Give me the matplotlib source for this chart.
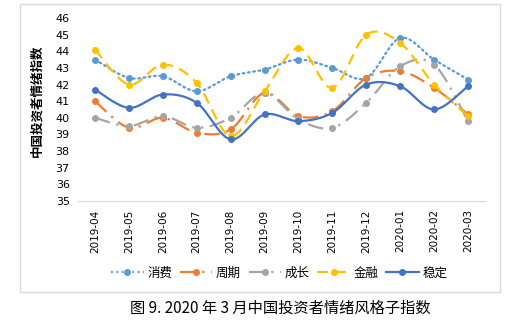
import matplotlib
matplotlib.use("Agg")
import matplotlib.pyplot as plt
import numpy as np
from matplotlib.lines import Line2D
from matplotlib.patches import Rectangle

# ---------------------------------------------------------
# data
# ---------------------------------------------------------
months = ["2019-04", "2019-05", "2019-06", "2019-07", "2019-08", "2019-09",
          "2019-10", "2019-11", "2019-12", "2020-01", "2020-02", "2020-03"]

consume = [43.5, 42.4, 42.5, 41.6, 42.5, 42.9, 43.5, 43.0, 42.4, 44.8, 43.5, 42.3]
cycle = [41.0, 39.4, 40.0, 39.1, 39.3, 41.5, 40.1, 40.4, 42.4, 42.8, 41.8, 40.2]
growth = [40.0, 39.5, 40.1, 39.4, 40.0, 41.5, 39.9, 39.4, 40.9, 43.1, 43.2, 39.8]
finance = [44.1, 42.0, 43.2, 42.1, 38.9, 41.6, 44.2, 41.8, 45.0, 44.5, 42.0, 40.1]
stable = [41.7, 40.6, 41.4, 40.9, 38.7, 40.2, 39.8, 40.3, 42.0, 41.9, 40.5, 41.9]

series_names = ["消费", "周期", "成长", "金融", "稳定"]

CJK = ["Noto Sans CJK SC", "DejaVu Sans"]


def smooth(y, steps=30):
    """Excel-style smoothed line: cubic Bezier through the points."""
    y = np.asarray(y, dtype=float)
    x = np.arange(len(y), dtype=float)
    px = np.concatenate([[x[0]], x, [x[-1]]])
    py = np.concatenate([[y[0]], y, [y[-1]]])
    xs, ys = [], []
    t = np.linspace(0, 1, steps)
    for i in range(len(y) - 1):
        p0 = np.array([px[i + 1], py[i + 1]])
        p3 = np.array([px[i + 2], py[i + 2]])
        c1 = p0 + (np.array([px[i + 2], py[i + 2]]) - np.array([px[i], py[i]])) / 6
        c2 = p3 - (np.array([px[i + 3], py[i + 3]]) - np.array([px[i + 1], py[i + 1]])) / 6
        b = ((1 - t) ** 3)[:, None] * p0 + (3 * (1 - t) ** 2 * t)[:, None] * c1 \
            + (3 * (1 - t) * t ** 2)[:, None] * c2 + (t ** 3)[:, None] * p3
        xs.extend(b[:, 0])
        ys.extend(b[:, 1])
    return np.array(xs), np.array(ys)


fig = plt.figure(figsize=(5.17, 3.22), dpi=100)
ax = fig.add_axes([0.151, 0.376, 0.787, 0.568])

# chart frame
fig.patches.append(Rectangle((0.0387, 0.093), 0.928, 0.894, transform=fig.transFigure,
                             fill=False, edgecolor="#D9D9D9", linewidth=1.0))

styles = [
    (consume, "#5B9BD5", (0, (0.8, 1.6))),
    (cycle, "#ED7D31", (0, (7, 3, 1, 3))),
    (growth, "#A5A5A5", (0, (7, 3, 1, 3, 1, 3))),
    (finance, "#FFC000", (0, (5, 3))),
    (stable, "#4472C4", "-"),
]

handles = []
x = np.arange(len(months))
for (vals, color, ls), name in zip(styles, series_names):
    sx, sy = smooth(vals)
    ax.plot(sx, sy, color=color, linestyle=ls, linewidth=1.6,
            dash_capstyle="round" if name == "消费" else "butt")
    ax.plot(x, vals, linestyle="none", marker="o", markersize=4, color=color)
    handles.append(Line2D([0], [0], color=color, linestyle=ls, linewidth=1.6,
                          marker="o", markersize=4, label=name))

ax.set_xlim(-0.5, len(months) - 0.5)
ax.set_ylim(35, 46)
ax.set_yticks(range(35, 47))
ax.set_xticks(x)
ax.set_xticklabels(months, rotation=90, fontsize=7.5)
ax.tick_params(axis="y", labelsize=8, length=0, pad=6)
ax.tick_params(axis="x", length=0, pad=6)

for side in ["top", "right", "left"]:
    ax.spines[side].set_visible(False)
ax.spines["bottom"].set_color("#D9D9D9")

ax.set_ylabel("中国投资者情绪指数", family=CJK, fontsize=9, fontweight="bold")
ax.yaxis.set_label_coords(-0.085, 0.55)

fig.legend(handles=handles, loc="center", bbox_to_anchor=(0.54, 0.152), ncol=5,
           frameon=False, prop={"family": CJK, "size": 9},
           handlelength=2.6, handletextpad=0.3, columnspacing=0.6)

fig.text(0.542, 0.043, "图 9. 2020 年 3 月中国投资者情绪风格子指数", family=CJK,
         fontsize=11, ha="center", va="center")

fig.savefig("out.png", dpi=100)
